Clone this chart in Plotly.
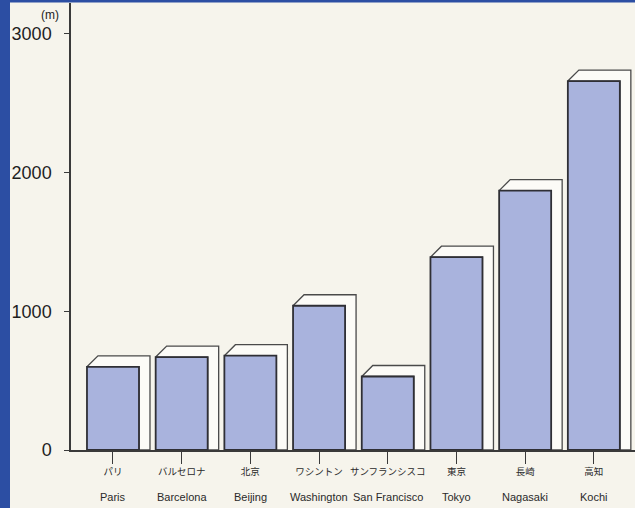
import plotly.graph_objects as go

# ---- data ----
cities_ja = ["パリ", "バルセロナ", "北京", "ワシントン", "サンフランシスコ", "東京", "長崎", "高知"]
cities_en = ["Paris", "Barcelona", "Beijing", "Washington", "San Francisco", "Tokyo", "Nagasaki", "Kochi"]
values = [600, 670, 680, 1040, 530, 1390, 1870, 2660]
y_ticks = [0, 1000, 2000, 3000]
unit_label = "(m)"

# ---- layout geometry / style ----
W, H = 635, 508
ML, MR, MT, MB = 71, 0, 3, 58
XR = [-0.611, 7.599]
YR = [0, 3223]
PW, PH = W - ML - MR, H - MT - MB
px_x = PW / (XR[1] - XR[0])
px_y = PH / (YR[1] - YR[0])
DEPTH_PX = 11
DX = DEPTH_PX / px_x
DY = DEPTH_PX / px_y
BW = 0.757

CREAM = "#f6f4ec"
BOX_WHITE = "#fcfbf7"
BLUE_FACE = "#a9b3dd"
EDGE = "#2f2f35"
BORDER_BLUE = "#2c4ea3"

fig = go.Figure()
xs = list(range(len(values)))
for i, v in zip(xs, values):
    x0, x1 = i - BW / 2, i + BW / 2
    # top + side faces (white)
    fig.add_trace(go.Scatter(
        x=[x0, x0 + DX, x1 + DX, x1 + DX, x1, x1, x0],
        y=[v, v + DY, v + DY, 0, 0, v, v],
        mode="lines", fill="toself", fillcolor=BOX_WHITE,
        line=dict(color="#4a4a4a", width=1.3), hoverinfo="skip", showlegend=False))
    # front face (blue)
    fig.add_trace(go.Scatter(
        x=[x0, x1, x1, x0, x0],
        y=[0, 0, v, v, 0],
        mode="lines", fill="toself", fillcolor=BLUE_FACE,
        line=dict(color=EDGE, width=1.8), hoverinfo="skip", showlegend=False,
        name=cities_en[i]))

annotations = []
for i, name in zip(xs, cities_en):
    annotations.append(dict(x=i, y=0, xref="x", yref="y", text=name, showarrow=False,
                            xanchor="center", yanchor="middle", yshift=-47,
                            font=dict(family="Liberation Sans, Arial", size=11, color="#2a2a2a")))
annotations.append(dict(x=(50 - ML) / PW, y=1 + (MT - 15) / PH,
                        xref="paper", yref="paper", text=unit_label, showarrow=False,
                        xanchor="center", yanchor="middle",
                        font=dict(family="Liberation Sans, Arial", size=12, color="#222")))

shapes = [
    dict(type="rect", xref="paper", yref="paper",
         x0=-ML / PW, x1=(10 - ML) / PW,
         y0=-MB / PH, y1=1 + MT / PH,
         fillcolor=BORDER_BLUE, line=dict(width=0), layer="above"),
    dict(type="rect", xref="paper", yref="paper",
         x0=-ML / PW, x1=1,
         y0=1 + (MT - 2.5) / PH, y1=1 + MT / PH,
         fillcolor=BORDER_BLUE, line=dict(width=0), layer="above"),
]

fig.update_layout(
    width=W, height=H,
    margin=dict(l=ML, r=MR, t=MT, b=MB, pad=0),
    paper_bgcolor=CREAM, plot_bgcolor=CREAM,
    showlegend=False,
    annotations=annotations,
    shapes=shapes,
    xaxis=dict(range=XR, fixedrange=True, showgrid=False, zeroline=False,
               showline=True, linecolor="#3a3a3a", linewidth=1.5,
               ticks="outside", ticklen=12, tickcolor="#3a3a3a", tickwidth=1.3,
               tickvals=xs, ticktext=cities_ja, tickangle=0,
               tickfont=dict(family="Noto Sans CJK JP", size=9.5, color="#2a2a2a")),
    yaxis=dict(range=YR, fixedrange=True, showgrid=False, zeroline=False,
               showline=True, linecolor="#3a3a3a", linewidth=1.5,
               ticks="outside", ticklen=5, tickcolor="#3a3a3a", tickwidth=1.3,
               tickvals=y_ticks, ticklabelstandoff=9,
               tickfont=dict(family="Liberation Sans, Arial", size=18, color="#1e1e1e")),
)

fig.write_html("out.html")
